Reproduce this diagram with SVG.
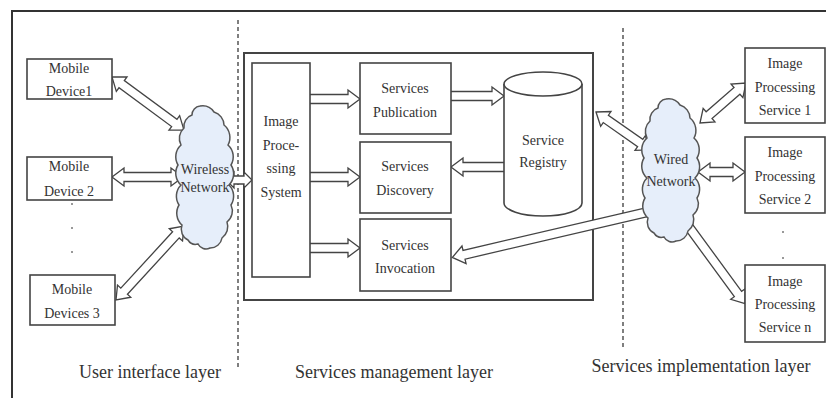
<svg xmlns="http://www.w3.org/2000/svg" xmlns:xlink="http://www.w3.org/1999/xlink" width="826" height="398" viewBox="0 0 826 398">
<style>
.box{fill:#fff;stroke:#444;stroke-width:1.6}
.arr{fill:#fff;stroke:#444;stroke-width:1.3;stroke-linejoin:miter}
.cloud{fill:#e6eefa;stroke:#555;stroke-width:1.5}
.t{font-family:"Liberation Serif","Times New Roman",serif;font-size:14px;fill:#333;text-anchor:middle}
.layer{font-family:"Liberation Serif","Times New Roman",serif;font-size:18px;fill:#333;text-anchor:middle}
.dash{stroke:#555;stroke-width:1.5;stroke-dasharray:4 3;fill:none}
.frame{stroke:#333;stroke-width:2;fill:none}
</style>
<defs>
<path id="cloudShape" d="M200,106 A14,14 0 0 1 214,112 A14,14 0 0 1 224,125 A16,16 0 0 1 228,145 A16,16 0 0 1 231,165 A16,16 0 0 1 229,185 A16,16 0 0 1 231,205 A14,14 0 0 1 227,222 A14,14 0 0 1 222,238 A12,12 0 0 1 210,248 A9,9 0 0 1 198,244 A9,9 0 0 1 188,240 A12,12 0 0 1 182,225 A16,16 0 0 1 179,205 A16,16 0 0 1 181,185 A16,16 0 0 1 178,165 A16,16 0 0 1 181,145 A14,14 0 0 1 184,128 A12,12 0 0 1 192,115 A9,9 0 0 1 200,106 Z"/>
</defs>
<rect width="826" height="398" fill="#fff"/>
<g id="frame">
<path class="frame" d="M12,398 L12,11 L826,11"/>
<line class="dash" x1="238" y1="20" x2="238" y2="370"/>
<line class="dash" x1="623" y1="28" x2="623" y2="350"/>
</g>
<g id="management">
<rect x="244" y="53" width="349" height="247" fill="none" stroke="#444" stroke-width="2"/>
</g>
<g id="connectors">
<path class="arr" transform="translate(112,77) rotate(36.4)" d="M0,0 L12,-9 L12,-4.5 L77.4,-4.5 L77.4,-9 L89.4,0 L77.4,9 L77.4,4.5 L12,4.5 L12,9 Z"/>
<path class="arr" transform="translate(112,177)" d="M0,0 L12,-9 L12,-4.5 L59,-4.5 L59,-9 L71,0 L59,9 L59,4.5 L12,4.5 L12,9 Z"/>
<path class="arr" transform="translate(116,300) rotate(-47.4)" d="M0,0 L12,-9 L12,-4.5 L88.5,-4.5 L88.5,-9 L100.5,0 L88.5,9 L88.5,4.5 L12,4.5 L12,9 Z"/>
<path class="arr" transform="translate(226,180)" d="M0,0 L8,-8 L8,-4 L18,-4 L18,-8 L26,0 L18,8 L18,4 L8,4 L8,8 Z"/>
<path class="arr" transform="translate(310,99)" d="M0,-4.5 L38,-4.5 L38,-9 L50,0 L38,9 L38,4.5 L0,4.5"/>
<path class="arr" transform="translate(451,96)" d="M0,-4.5 L41,-4.5 L41,-9 L53,0 L41,9 L41,4.5 L0,4.5"/>
<path class="arr" transform="translate(504,167) rotate(180)" d="M0,-4.5 L41,-4.5 L41,-9 L53,0 L41,9 L41,4.5 L0,4.5"/>
<path class="arr" transform="translate(310,177)" d="M0,-4.5 L38,-4.5 L38,-9 L50,0 L38,9 L38,4.5 L0,4.5"/>
<path class="arr" transform="translate(310,248)" d="M0,-4.5 L38,-4.5 L38,-9 L50,0 L38,9 L38,4.5 L0,4.5"/>
<path class="arr" transform="translate(652,211) rotate(166.9)" d="M0,-4.5 L193,-4.5 L193,-9 L205,0 L193,9 L193,4.5 L0,4.5"/>
<path class="arr" transform="translate(596,112) rotate(35.1)" d="M0,0 L12,-9 L12,-4.5 L54,-4.5 L54,-9 L66,0 L54,9 L54,4.5 L12,4.5 L12,9 Z"/>
<path class="arr" transform="translate(700,123) rotate(-41)" d="M0,0 L12,-9 L12,-4.5 L49,-4.5 L49,-9 L61,0 L49,9 L49,4.5 L12,4.5 L12,9 Z"/>
<path class="arr" transform="translate(698,172)" d="M0,0 L12,-9 L12,-4.5 L35,-4.5 L35,-9 L47,0 L35,9 L35,4.5 L12,4.5 L12,9 Z"/>
<path class="arr" transform="translate(686,223) rotate(53.8)" d="M0,-4.5 L88,-4.5 L88,-9 L100,0 L88,9 L88,4.5 L0,4.5"/>
</g>
<g id="mobile1">
<rect class="box" x="27" y="59" width="85" height="40"/>
<text class="t" x="69" y="73">Mobile</text>
<text class="t" x="69" y="96">Device1</text>
</g>
<g id="mobile2">
<rect class="box" x="27" y="157" width="85" height="43"/>
<text class="t" x="69" y="171">Mobile</text>
<text class="t" x="69" y="196">Device 2</text>
</g>
<g id="dots-left" fill="#777">
<circle cx="72" cy="204" r="1"/>
<circle cx="72" cy="228" r="1"/>
<circle cx="72" cy="252" r="1"/>
</g>
<g id="mobile3">
<rect class="box" x="30" y="275" width="85" height="50"/>
<text class="t" x="72" y="294">Mobile</text>
<text class="t" x="72" y="318">Devices 3</text>
</g>
<g id="wireless">
<use xlink:href="#cloudShape" class="cloud"/>
<text class="t" x="205" y="174">Wireless</text>
<text class="t" x="205" y="192">Network</text>
</g>
<g id="ips">
<rect class="box" x="252" y="63" width="58" height="214"/>
<text class="t" x="281" y="126">Image</text>
<text class="t" x="281" y="150">Proce-</text>
<text class="t" x="281" y="173">ssing</text>
<text class="t" x="281" y="197">System</text>
</g>
<g id="publication">
<rect class="box" x="360" y="63" width="91" height="71"/>
<text class="t" x="405" y="93">Services</text>
<text class="t" x="405" y="117">Publication</text>
</g>
<g id="discovery">
<rect class="box" x="360" y="142" width="91" height="71"/>
<text class="t" x="405" y="171">Services</text>
<text class="t" x="405" y="195">Discovery</text>
</g>
<g id="invocation">
<rect class="box" x="360" y="219" width="91" height="72"/>
<text class="t" x="405" y="250">Services</text>
<text class="t" x="405" y="273">Invocation</text>
</g>
<g id="registry">
<path class="box" d="M504,84 L504,203 A39,13 0 0 0 582,203 L582,84"/>
<ellipse class="box" cx="543" cy="84" rx="39" ry="12"/>
<text class="t" x="543" y="145">Service</text>
<text class="t" x="543" y="167">Registry</text>
</g>
<g id="wired">
<use xlink:href="#cloudShape" class="cloud" transform="translate(466,-7)"/>
<text class="t" x="671" y="164">Wired</text>
<text class="t" x="671" y="186">Network</text>
</g>
<g id="service1">
<rect class="box" x="745" y="48" width="80" height="75"/>
<text class="t" x="785" y="68">Image</text>
<text class="t" x="785" y="92">Processing</text>
<text class="t" x="785" y="115">Service 1</text>
</g>
<g id="service2">
<rect class="box" x="745" y="137" width="80" height="76"/>
<text class="t" x="785" y="157">Image</text>
<text class="t" x="785" y="181">Processing</text>
<text class="t" x="785" y="204">Service 2</text>
</g>
<g id="dots-right" fill="#777">
<circle cx="783" cy="232" r="1"/>
<circle cx="783" cy="258" r="1"/>
</g>
<g id="servicen">
<rect class="box" x="745" y="265" width="80" height="77"/>
<text class="t" x="785" y="286">Image</text>
<text class="t" x="785" y="309">Processing</text>
<text class="t" x="785" y="332">Service n</text>
</g>
<g id="labels">
<text class="layer" x="150" y="378">User interface layer</text>
<text class="layer" x="394" y="378">Services management layer</text>
<text class="layer" x="701" y="372">Services implementation layer</text>
</g>
</svg>
